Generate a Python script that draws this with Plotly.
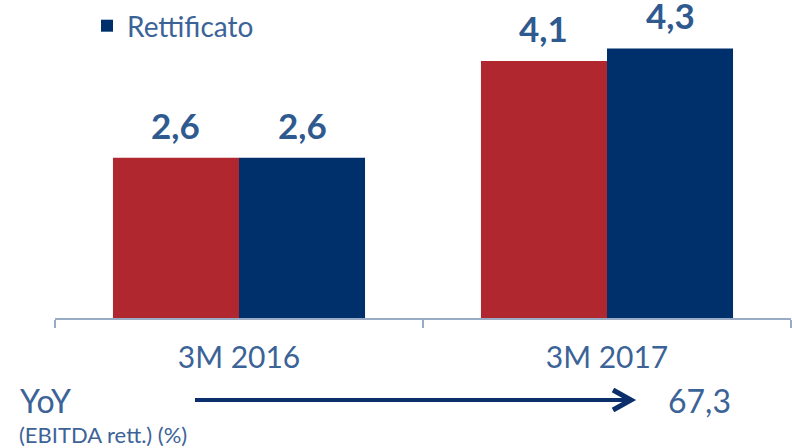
import plotly.graph_objects as go

categories = ["3M 2016", "3M 2017"]
reported = [2.58, 4.14]
adjusted = [2.58, 4.34]
series_names = ["Reported", "Rettificato"]
yoy_value = 67.3

# body margin removed by post_script, so the figure fills the 792x448 window
OFF = 0
W, H = 792 - OFF, 448 - OFF
ML, MR, MT, MB = 55 - OFF, 1, 0, 130
PW, PH = W - ML - MR, H - MT - MB
SCALE = 62.1  # px per unit

RED = "#b0272f"
BLUE = "#00306b"
TXT = "#3c6397"
LBL = "#2f5a8f"
FONT = "Lato, 'Open Sans', sans-serif"


def px(x):
    return (x - OFF - ML) / PW


def py(y):
    return (H - MB - (y - OFF)) / PH


def fmt(v):
    return f"{v:.1f}".replace(".", ",")


fig = go.Figure()
fig.add_trace(go.Bar(x=categories, y=reported, name=series_names[0],
                     marker=dict(color=RED, line=dict(width=0)), showlegend=False))
fig.add_trace(go.Bar(x=categories, y=adjusted, name=series_names[1],
                     marker=dict(color=BLUE, line=dict(width=0))))

bar_px = PW / len(categories) * (1 - 0.315) / 2
annotations = []
for vals, sgn in ((reported, -1), (adjusted, 1)):
    for c, v in zip(categories, vals):
        annotations.append(dict(x=c, y=v, xref="x", yref="y", text=fmt(v),
                                showarrow=False, xshift=sgn * bar_px / 2,
                                yanchor="bottom", yshift=11, borderpad=0,
                                font=dict(family=FONT, size=35, color=LBL, weight="bold")))

annotations += [
    dict(x=px(18), y=py(400), xref="paper", yref="paper", text="YoY", showarrow=False,
         xanchor="left", yanchor="middle", font=dict(family=FONT, size=32, color=TXT)),
    dict(x=px(17), y=py(434), xref="paper", yref="paper", text="(EBITDA rett.) (%)",
         showarrow=False, xanchor="left", yanchor="middle",
         font=dict(family=FONT, size=22, color=TXT)),
    dict(x=px(666), y=py(400), xref="paper", yref="paper", text=fmt(yoy_value),
         showarrow=False, xanchor="left", yanchor="middle",
         font=dict(family=FONT, size=32, color=TXT)),
]

ARROW = "#0a2f6b"
shapes = [
    dict(type="line", xref="paper", yref="paper", x0=px(195), x1=px(630), y0=py(400), y1=py(400),
         line=dict(color=ARROW, width=4)),
    dict(type="path", xref="paper", yref="paper",
         path=f"M{px(613)},{py(390)} L{px(631)},{py(400)} L{px(613)},{py(410)}",
         line=dict(color=ARROW, width=5)),
]

fig.update_layout(
    width=W, height=H,
    margin=dict(l=ML, r=MR, t=MT, b=MB, autoexpand=False),
    paper_bgcolor="white", plot_bgcolor="white",
    barmode="group", bargap=0.315, bargroupgap=0,
    font=dict(family=FONT, color=TXT),
    legend=dict(x=px(87), y=py(26), xanchor="left", yanchor="middle",
                font=dict(family=FONT, size=28, color=TXT), bgcolor="rgba(0,0,0,0)",
                itemwidth=30),
    xaxis=dict(showline=True, linecolor="#9aabc6", linewidth=2, ticks="outside",
               tickson="boundaries", ticklen=8, tickcolor="#9aabc6", tickwidth=2,
               tickfont=dict(family=FONT, size=30, color=TXT), ticklabelstandoff=12,
               showgrid=False, zeroline=False),
    yaxis=dict(visible=False, range=[0, PH / SCALE], showgrid=False, zeroline=False),
    annotations=annotations,
    shapes=shapes,
)

fig.write_html("out.html", config={"displayModeBar": False},
               post_script="document.body.style.margin='0';document.body.style.overflow='hidden';")
